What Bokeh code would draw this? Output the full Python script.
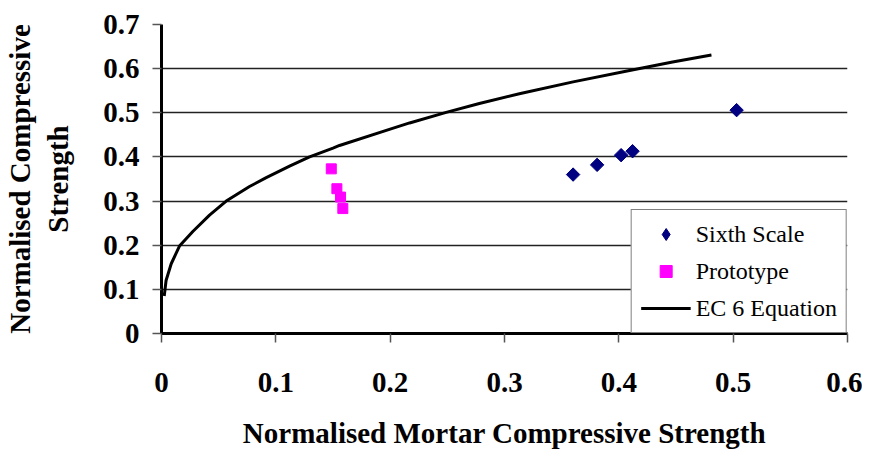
import math
from bokeh.plotting import figure
from bokeh.models import (Range1d, FixedTicker, CustomJSTickFormatter, Legend, LegendItem)
from bokeh.embed import file_html
from bokeh.resources import INLINE

# Data
sixth_x = [0.360, 0.381, 0.402, 0.412, 0.503]
sixth_y = [0.360, 0.382, 0.404, 0.413, 0.506]

proto_x = [0.1485, 0.1534, 0.1566, 0.1586]
proto_y = [0.373, 0.328, 0.309, 0.283]

ec6_x = [0.0024, 0.004, 0.0085, 0.0157, 0.0274, 0.042, 0.0566, 0.077, 0.0916, 0.112,
         0.1295, 0.15, 0.1557, 0.2, 0.217, 0.249, 0.278, 0.313, 0.36, 0.4094, 0.447, 0.481]
ec6_y = [0.085, 0.12, 0.158, 0.198, 0.231, 0.268, 0.300, 0.333, 0.353, 0.379,
         0.40, 0.42, 0.426, 0.463, 0.477, 0.501, 0.521, 0.543, 0.570, 0.596, 0.615, 0.631]

series_names = ["Sixth Scale", "Prototype", "EC 6 Equation"]

x_ticks = [0, 0.1, 0.2, 0.3, 0.4, 0.5, 0.6]
y_ticks = [0, 0.1, 0.2, 0.3, 0.4, 0.5, 0.6, 0.7]

FONT = "Liberation Serif"

p = figure(frame_width=686, frame_height=309, output_backend="svg", toolbar_location=None,
           x_range=Range1d(0, 0.6), y_range=Range1d(0, 0.7),
           min_border_left=0, min_border_right=15, min_border_top=24, min_border_bottom=0)
p.outline_line_color = None
p.background_fill_color = "white"
p.border_fill_color = "white"

fmt = CustomJSTickFormatter(code="var s = tick.toFixed(1); return s === '0.0' ? '0' : s;")

for ax in (p.xaxis[0], p.yaxis[0]):
    ax.axis_line_width = 3
    ax.axis_line_color = "black"
    ax.major_tick_line_color = "#555555"
    ax.major_tick_line_width = 1.5
    ax.major_tick_in = 0
    ax.major_tick_out = 9
    ax.minor_tick_line_color = None
    ax.major_label_text_font = FONT
    ax.major_label_text_font_style = "bold"
    ax.major_label_text_font_size = "29px"
    ax.major_label_text_color = "black"
    ax.axis_label_text_font = FONT
    ax.axis_label_text_font_style = "bold"
    ax.axis_label_text_font_size = "29px"
    ax.axis_label_text_color = "black"
    ax.formatter = fmt

p.xaxis.ticker = FixedTicker(ticks=x_ticks)
p.yaxis.ticker = FixedTicker(ticks=y_ticks)
p.xaxis.major_label_standoff = 30
p.yaxis.major_label_standoff = 13
p.xaxis.axis_label = "Normalised Mortar Compressive Strength"
p.xaxis.axis_label_standoff = 22
p.yaxis.axis_label = "Normalised Compressive\nStrength"
p.yaxis.axis_label_standoff = 26

p.xgrid.grid_line_color = None
p.ygrid.grid_line_color = "#222222"
p.ygrid.grid_line_width = 1.3

r_ec6 = p.line(ec6_x, ec6_y, line_color="black", line_width=3)
# narrow diamonds (used for the legend key), covered by the rotated squares below
r_six_key = p.scatter(sixth_x, sixth_y, marker="diamond", size=12,
                      fill_color="#000080", line_color="#000080")
r_six = p.scatter(sixth_x, sixth_y, marker="square", angle=math.pi / 4, size=9.5,
                  fill_color="#000080", line_color="#000080")
r_pro = p.scatter(proto_x, proto_y, marker="square", size=10, fill_color="#FF00FF",
                  line_color="#FF00FF")

legend = Legend(items=[LegendItem(label=series_names[0], renderers=[r_six_key]),
                       LegendItem(label=series_names[1], renderers=[r_pro]),
                       LegendItem(label=series_names[2], renderers=[r_ec6])],
                location="bottom_right", margin=0, padding=9, spacing=7,
                glyph_width=50, glyph_height=30, label_standoff=5,
                border_line_color="black", border_line_width=1.5,
                background_fill_color="white", background_fill_alpha=1,
                label_text_font=FONT, label_text_font_size="24px",
                label_text_color="black")
p.add_layout(legend)

open("out.html", "w").write(file_html(p, INLINE))
